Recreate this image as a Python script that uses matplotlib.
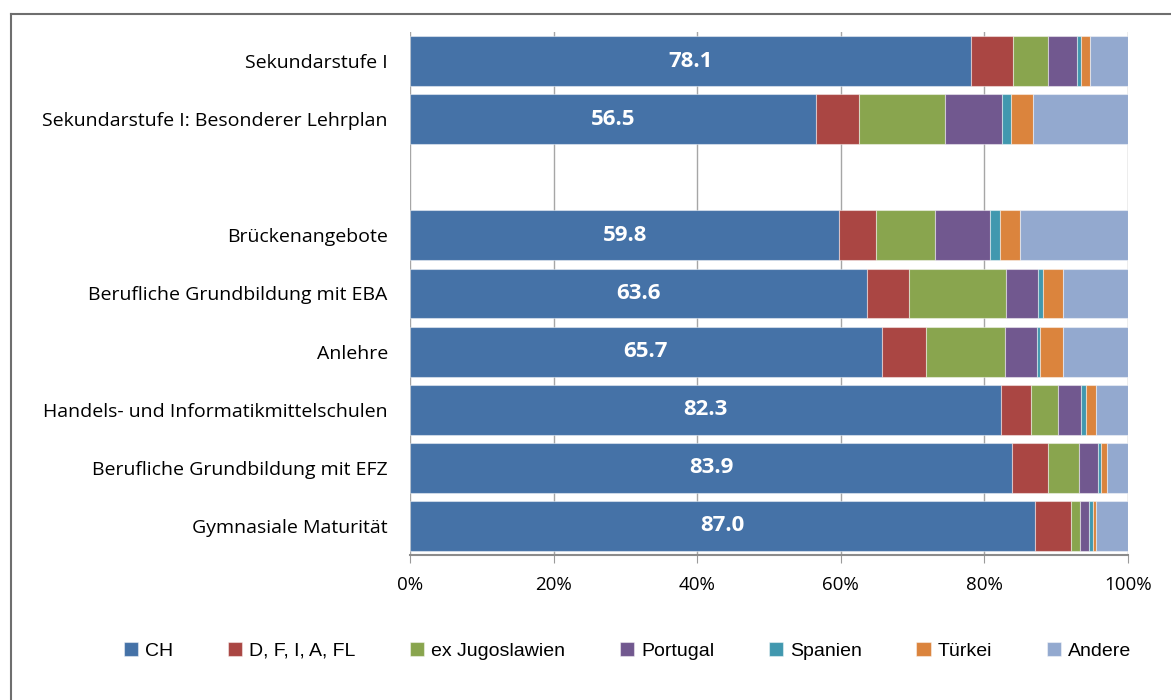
import matplotlib
matplotlib.use("Agg")
import matplotlib.pyplot as plt
from matplotlib.ticker import PercentFormatter
from matplotlib.lines import Line2D

# category rows, top to bottom (None = empty gap row)
categories = [
    "Sekundarstufe I",
    "Sekundarstufe I: Besonderer Lehrplan",
    None,
    "Brückenangebote",
    "Berufliche Grundbildung mit EBA",
    "Anlehre",
    "Handels- und Informatikmittelschulen",
    "Berufliche Grundbildung mit EFZ",
    "Gymnasiale Maturität",
]

series_names = ["CH", "D, F, I, A, FL", "ex Jugoslawien", "Portugal",
                "Spanien", "Türkei", "Andere"]

ch = [78.1, 56.5, None, 59.8, 63.6, 65.7, 82.3, 83.9, 87.0]
dfiafl = [5.9, 6.0, None, 5.1, 5.9, 6.1, 4.2, 5.0, 5.1]
jugo = [4.9, 12.0, None, 8.2, 13.5, 11.0, 3.8, 4.3, 1.2]
portugal = [4.0, 8.0, None, 7.7, 4.5, 4.5, 3.2, 2.6, 1.3]
spanien = [0.6, 1.2, None, 1.4, 0.6, 0.4, 0.7, 0.5, 0.5]
tuerkei = [1.2, 3.1, None, 2.7, 2.9, 3.2, 1.3, 0.8, 0.4]
andere = [5.3, 13.2, None, 15.1, 9.0, 9.1, 4.5, 2.9, 4.5]

colors = ["#4572A7", "#AA4643", "#89A54E", "#71588F", "#4198AF", "#DB843D", "#93A9CF"]

series = [ch, dfiafl, jugo, portugal, spanien, tuerkei, andere]
font = ["Open Sans", "DejaVu Sans"]

fig = plt.figure(figsize=(11.71, 7.0), dpi=100)
ax = fig.add_axes([410 / 1171, 1 - 555 / 700, 718 / 1171, 523 / 700])

rows = [i for i, c in enumerate(categories) if c is not None]
left = [0.0] * len(rows)
for name, vals, col in zip(series_names, series, colors):
    w = [vals[i] for i in rows]
    ax.barh(rows, w, left=left, height=0.86, color=col,
            edgecolor=(1, 1, 1, 0.45), linewidth=0.8, label=name, zorder=3)
    left = [a + b for a, b in zip(left, w)]

for i in rows:
    ax.text(ch[i] / 2, i, f"{ch[i]:.1f}", ha="center", va="center",
            color="white", fontsize=16, fontweight="bold",
            family=font, zorder=4)

ax.set_xlim(0, 100)
ax.set_ylim(len(categories) - 0.5, -0.5)
ax.set_yticks(range(len(categories)))
ax.set_yticklabels([c if c else "" for c in categories], fontsize=14, family=font)
ax.tick_params(axis="y", length=0, pad=16)
ax.set_xticks([0, 20, 40, 60, 80, 100])
ax.xaxis.set_major_formatter(PercentFormatter(decimals=0))
ax.tick_params(axis="x", labelsize=13.5, length=6, color="#9a9a9a", pad=9)
for lbl in ax.get_xticklabels():
    lbl.set_family(font)

ax.grid(axis="x", color="#a6a6a6", linewidth=1, zorder=0)
for s in ["top", "right", "left"]:
    ax.spines[s].set_visible(False)
ax.spines["bottom"].set_color("#8c8c8c")
ax.spines["bottom"].set_linewidth(1.5)

handles, labels = ax.get_legend_handles_labels()
fig.legend(handles, labels, loc="center", bbox_to_anchor=(0.5 + 42 / 1171, 1 - 651 / 700),
           ncol=7, frameon=False, handlelength=0.75, handleheight=0.75,
           handletextpad=0.35, columnspacing=2.8,
           prop={"family": ["Liberation Sans", "DejaVu Sans"], "size": 14})

# outer frame (top and left edges visible)
fig.add_artist(Line2D([11 / 1171, 1.0], [1 - 14 / 700, 1 - 14 / 700],
                      color="#6e6e6e", linewidth=1.5, transform=fig.transFigure))
fig.add_artist(Line2D([11 / 1171, 11 / 1171], [0.0, 1 - 14 / 700],
                      color="#6e6e6e", linewidth=1.5, transform=fig.transFigure))

fig.savefig("out.png", dpi=100)
